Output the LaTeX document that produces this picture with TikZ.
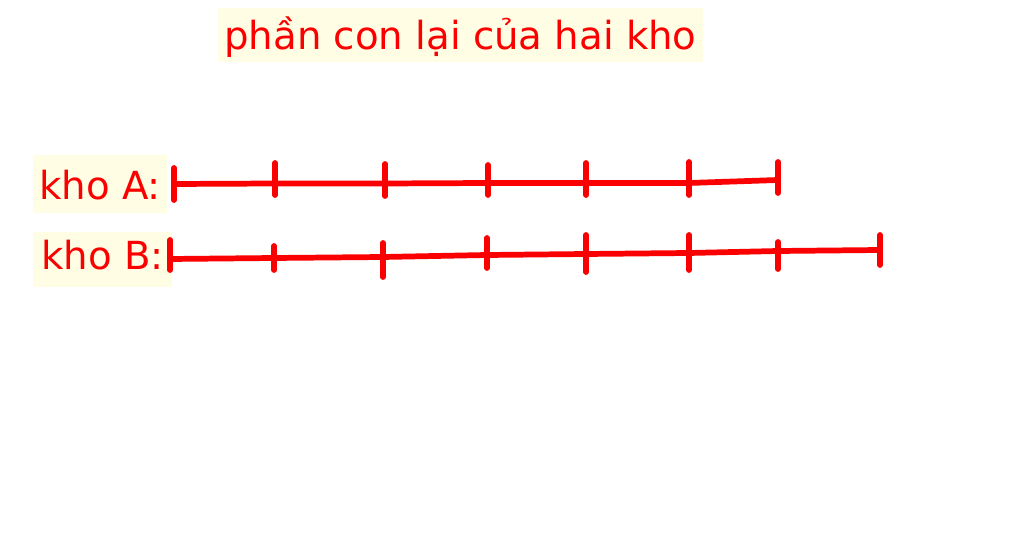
\documentclass[tikz,border=0pt]{standalone}
\usepackage{fontspec}
\setmainfont{DejaVu Sans}
\definecolor{inkred}{RGB}{250,0,0}
\definecolor{notebg}{RGB}{255,253,228}
\begin{document}
\begin{tikzpicture}
[x=0.75pt, y=-0.75pt,
khobox/.style={fill=notebg, text=inkred, font=\fontsize{29}{34}\selectfont, inner xsep=4.5pt, inner ysep=0pt, text height=33.75pt, text depth=9.75pt, anchor=base west},
redline/.style={draw=inkred, line width=4.3pt, line cap=round}]

\useasboundingbox (0,0) rectangle (1024,548);

\node[khobox, text height=31.5pt, text depth=9pt] (title) at (218,50) {phần con lại của hai kho};
\node[khobox] (khoA) at (33,200) {kho A:};
\node[khobox, minimum width=104pt, text height=28.5pt, text depth=12.75pt] (khoB) at (33,270) {kho B:};

% kho A
\foreach \i/\x/\y/\t/\b in {0/174/184/168/200, 1/275/183.5/163/195, 2/385/183.5/164/196,
  3/488/183/165/195, 4/586/183/163/195, 5/689/183/162/195, 6/778/180/162/193} {
  \coordinate (a\i) at (\x,\y);
  \draw[redline] (\x,\t) -- (\x,\b);
}
\draw[redline] (a0) -- (a1) -- (a2) -- (a3) -- (a4) -- (a5) -- (a6);

% kho B
\foreach \i/\x/\y/\t/\b in {0/170/259/240/270, 1/274/258/246/270, 2/383/257/243/277,
  3/487/255/238/268, 4/586/254/235/272, 5/689/253/235/270, 6/778/251/242/269, 7/880/250/235/265} {
  \coordinate (b\i) at (\x,\y);
  \draw[redline] (\x,\t) -- (\x,\b);
}
\draw[redline] (b0) -- (b1) -- (b2) -- (b3) -- (b4) -- (b5) -- (b6) -- (b7);
\end{tikzpicture}
\end{document}
